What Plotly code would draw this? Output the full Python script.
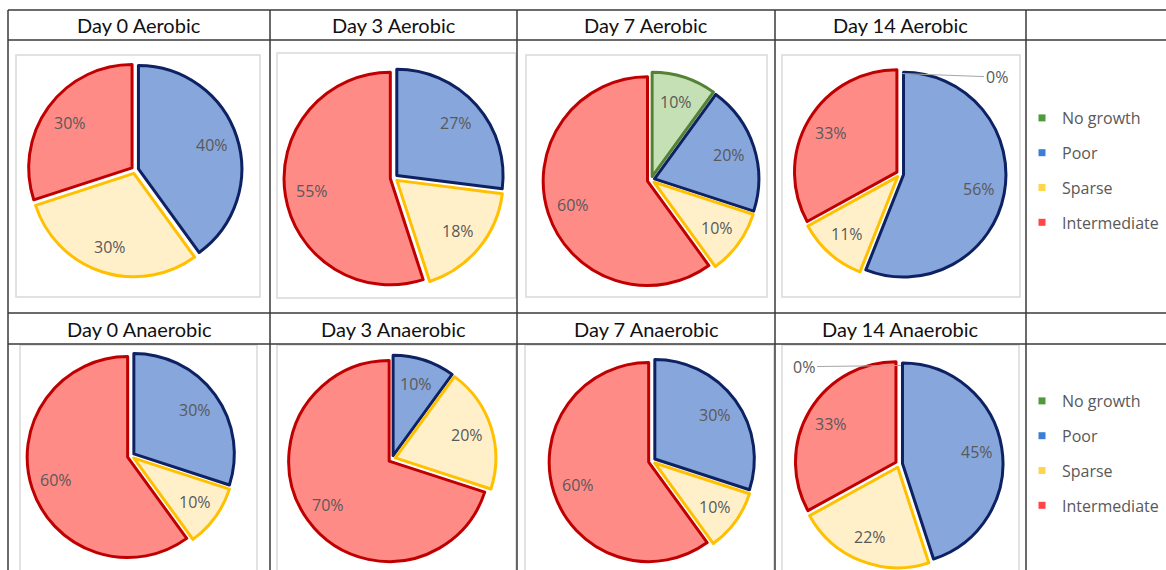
import math
import plotly.graph_objects as go

W, H = 1166, 570

categories = ["No growth", "Poor", "Sparse", "Intermediate"]
titles = ["Day 0 Aerobic", "Day 3 Aerobic", "Day 7 Aerobic", "Day 14 Aerobic",
          "Day 0 Anaerobic", "Day 3 Anaerobic", "Day 7 Anaerobic", "Day 14 Anaerobic"]
# percentages per panel, order: No growth, Poor, Sparse, Intermediate (None = blank)
day0_aerobic = [None, 40, 30, 30]
day3_aerobic = [None, 27, 18, 55]
day7_aerobic = [10, 20, 10, 60]
day14_aerobic = [0, 56, 11, 33]
day0_anaerobic = [None, 30, 10, 60]
day3_anaerobic = [None, 10, 20, 70]
day7_anaerobic = [None, 30, 10, 60]
day14_anaerobic = [0, 45, 22, 33]
panels = [day0_aerobic, day3_aerobic, day7_aerobic, day14_aerobic,
          day0_anaerobic, day3_anaerobic, day7_anaerobic, day14_anaerobic]

fill_colors = ["#C5E0B4", "#87A6DB", "#FFF0CA", "#FF8B87"]
line_colors = ["#548235", "#0E2263", "#FFC000", "#C00000"]
legend_colors = ["#4F9A3C", "#3A7FD5", "#FFD54A", "#FF4545"]

# layout geometry (pixels): pie centre x, centre y, outer radius incl. explosion
geom = [(135, 170, 107), (394, 178, 110), (651, 180, 108), (900, 174, 106),
        (131, 456, 104), (392, 459, 104), (652, 461, 103), (899, 464, 104)]
PULL = 0.035
LABEL_R = 0.755  # data-label distance from centre, as a fraction of outer radius

def px(x):
    return x / W

def py(y):
    return 1 - y / H

LABEL_FONT = dict(family="Open Sans", size=16, color="#595959")

fig = go.Figure()
annotations = []
for i, (vals, (cx, cy, rt)) in enumerate(zip(panels, geom)):
    labs, v, fc, lc, lw = [], [], [], [], []
    for c, val, f, l in zip(categories, vals, fill_colors, line_colors):
        if val is None:
            continue
        labs.append(c)
        v.append(val)
        fc.append(f)
        lc.append(l)
        lw.append(3 if val > 0 else 0)
    fig.add_trace(go.Pie(
        labels=labs, values=v, textinfo="none",
        sort=False, direction="clockwise", rotation=0,
        pull=[PULL] * len(v),
        marker=dict(colors=fc, line=dict(color=lc, width=lw)),
        domain=dict(x=[px(cx - rt), px(cx + rt)], y=[py(cy + rt), py(cy - rt)]),
        showlegend=False, hoverinfo="label+percent",
    ))
    # data labels along each slice bisector (derived from the values)
    total = sum(v)
    cum = 0
    for val in v:
        mid = (cum + val / 2) / total * 2 * math.pi
        cum += val
        if val > 0:
            d = LABEL_R * rt
            annotations.append(dict(
                x=px(cx + d * math.sin(mid)), y=py(cy - d * math.cos(mid)),
                xref="paper", yref="paper", text=f"{val}%", showarrow=False,
                xanchor="center", yanchor="middle", font=LABEL_FONT))
        else:
            r = rt / (1 + PULL)
            right = i < 4
            annotations.append(dict(
                x=px(cx + 2), y=py(cy - r + 2), xref="paper", yref="paper",
                text=f"{val}%", showarrow=True, arrowhead=0, arrowwidth=1,
                arrowcolor="#A6A6A6", ax=82 if right else -84, ay=3 if right else 1,
                xanchor="left" if right else "right", yanchor="middle",
                font=LABEL_FONT, standoff=0, startstandoff=0))

# legends (two copies, one per row)
for li, lname in enumerate(["legend", "legend2"]):
    for c, col in zip(categories, legend_colors):
        fig.add_trace(go.Scatter(
            x=[None], y=[None], mode="markers", name=c,
            marker=dict(symbol="square", size=7, color=col),
            legend=lname, legendgroup=f"{lname}-{c}", showlegend=True))

# table grid
shapes = []
LINE = dict(color="#3A3A3A", width=1.5)
for y in [10, 40, 313, 344]:
    shapes.append(dict(type="line", xref="paper", yref="paper", x0=px(8), x1=1,
                       y0=py(y), y1=py(y), line=LINE, layer="above"))
for x in [8, 270, 517, 775, 1026]:
    shapes.append(dict(type="line", xref="paper", yref="paper", x0=px(x), x1=px(x),
                       y0=py(10), y1=0, line=LINE, layer="above"))
# inner chart frames
FRAME = dict(color="#D9D9D9", width=1.5)
for (x0, x1, y0, y1) in [(16, 260, 55, 297), (277, 516, 53, 298), (526, 767, 55, 297),
                         (782, 1020, 55, 297), (20, 257, 345, 600), (277, 516, 345, 600),
                         (525, 774, 345, 600), (782, 1019, 345, 600)]:
    shapes.append(dict(type="rect", xref="paper", yref="paper", x0=px(x0), x1=px(x1),
                       y0=py(y1), y1=py(y0), line=FRAME, layer="below"))

# header titles
cols = [(8, 270), (270, 517), (517, 775), (775, 1026)]
for i, t in enumerate(titles):
    a, b = cols[i % 4]
    yc = 25 if i < 4 else 328.5
    annotations.append(dict(x=px((a + b) / 2), y=py(yc), xref="paper", yref="paper",
                            text=t, showarrow=False, xanchor="center", yanchor="middle",
                            font=dict(family="Lato", size=20, color="#111111")))

legend_style = dict(font=dict(family="Open Sans", size=16, color="#595959"),
                    bgcolor="rgba(0,0,0,0)", tracegroupgap=11, xanchor="left",
                    yanchor="top", itemclick=False, itemdoubleclick=False)
fig.update_layout(
    width=W, height=H, margin=dict(l=0, r=0, t=0, b=0),
    paper_bgcolor="white", plot_bgcolor="white",
    xaxis=dict(visible=False), yaxis=dict(visible=False),
    shapes=shapes, annotations=annotations,
    legend=dict(x=px(1022), y=py(101), **legend_style),
    legend2=dict(x=px(1022), y=py(384), **legend_style),
)

fig.write_html("out.html")
